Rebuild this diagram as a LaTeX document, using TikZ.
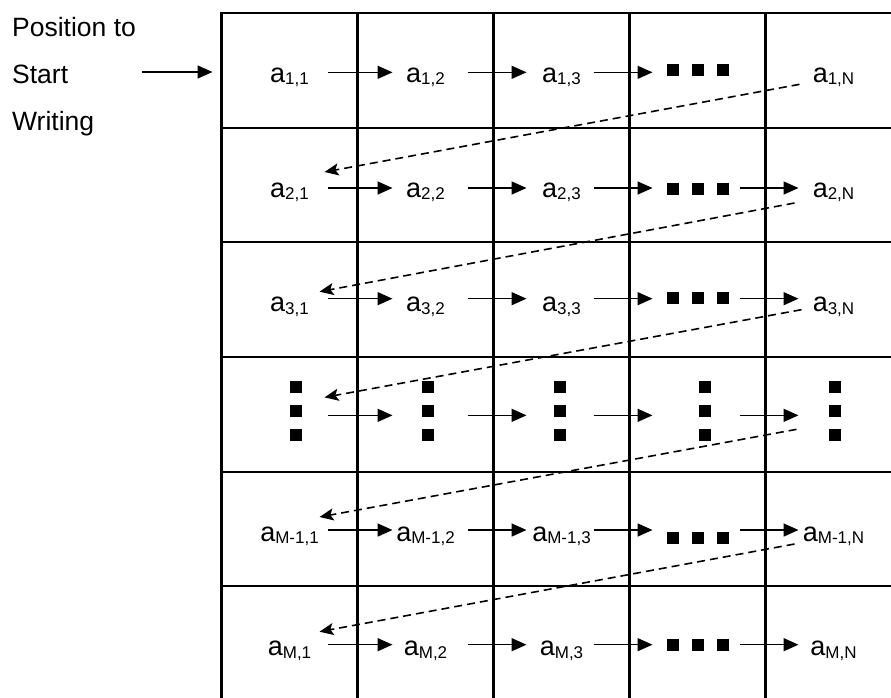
\documentclass[tikz,border=0pt]{standalone}
\usepackage{fontspec}
\setmainfont{Liberation Sans}
\usetikzlibrary{arrows.meta, positioning}

\newcommand{\elem}[1]{a{\fontsize{17}{17}\selectfont\raisebox{-2.5pt}{#1}}}

\begin{document}
\begin{tikzpicture}[x=1pt, y=-1pt, >={Triangle[length=15pt,width=13pt]},
		cell/.style={rectangle, draw=black, line width=2.2pt, minimum width=136pt, minimum height=114.67pt, inner sep=0pt, outer sep=0pt},
		elem/.style={font=\fontsize{27}{27}\selectfont, inner sep=0pt, anchor=base},
		note/.style={font=\fontsize{26.5}{26.5}\selectfont, inner sep=0pt, anchor=base west},
		flow/.style={->, line width=1.6pt},
		back/.style={-{Stealth[length=14pt,width=12pt,inset=3pt]}, dash pattern=on 8pt off 5pt, line width=1.6pt}]
		
		\useasboundingbox (0,0) rectangle (891,697);
		\clip (0,0) rectangle (891,697);
		
		% Grade
		\foreach \r in {1,...,6}
		\foreach \c in {1,...,5}
		\node[cell] (c\r\c) at ({289.5+136*(\c-1)}, {70.33+114.67*(\r-1)}) {};
		
		% Texto a esquerda
		\node[note] (pos1) at (12,36) {Position to};
		\node[note] (pos2) at (12,83) {Start};
		\node[note] (pos3) at (12,130) {Writing};
		\coordinate (pen) at (142,72);
		\draw[flow, shorten >=9pt] (pen) -- (pen -| c11.west);
		
		% Elementos
		\foreach \r/\rs in {1/1,2/2,3/3,5/M-1,6/M}
		\foreach \c/\cs in {1/1,2/2,3/3,5/N}
		\node[elem] (a\r\c) at ([shift={(0,12)}]c\r\c.center) {\elem{\rs,\cs}};
		
		% Pontos horizontais
		\foreach \r/\dy in {1/0,2/4,3/-2,5/9,6/1}
		\foreach \k in {-1,0,1}
		\fill ([shift={(25*\k-6,\dy-6)}]c\r4.center) rectangle +(12,12);
		
		% Pontos verticais
		\foreach \c/\dx in {1/6.5,2/2.5,3/-1.5,4/7.5,5/1.5}
		\foreach \k in {-1,0,1}
		\fill ([shift={(\dx-6,24*\k-9)}]c4\c.center) rectangle +(12,12);
		
		% Setas horizontais
		\foreach \r/\dy in {1/2,2/3,3/-1,4/1,5/1,6/1}
		\foreach \c/\d/\sa/\sb in {1/2/-30/35,2/3/-26/33,3/4/-36/23,4/5/-26/33}
		{
			\ifnum\r\c=14\else
			\draw[flow] ([shift={(\sa,\dy)}]c\r\c.east) -- ([shift={(\sb,\dy)}]c\r\d.west);
			\fi
		}
		
		% Setas tracejadas
		\foreach \r/\n/\sx/\sy/\ex/\ey in {1/2/-34/14/35/-13,2/3/-39/18/30/-8,3/4/-32/10/35/-17,4/5/-37/15/30/-12,5/6/-39/15/30/-12}
		\draw[back] ([shift={(\sx,\sy)}]c\r5.center) -- ([shift={(\ex,\ey)}]c\n1.center);
		
	\end{tikzpicture}
\end{document}
